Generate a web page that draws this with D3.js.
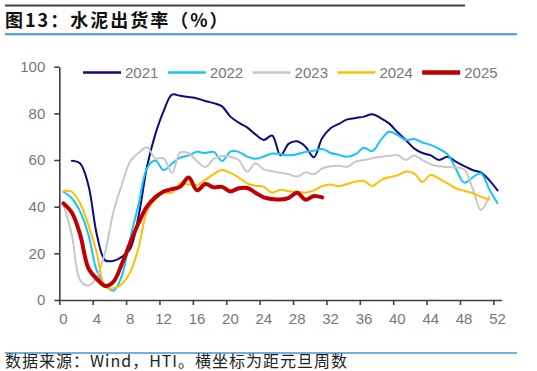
<!DOCTYPE html>
<html lang="zh">
  <head>
    <meta charset="utf-8">
    <title>水泥出货率</title>
    <style>
      body { margin: 0; background: #fff; }
      svg { display: block; }
    </style>
  </head>
  <body>

<script src="https://cdn.jsdelivr.net/npm/d3@7"></script>

<script>

// data, weeks since new year
var years = ["2021", "2022", "2023", "2024", "2025"];
var colors = ["#0c0c80", "#12c4fa", "#c8c8c8", "#ffbf00", "#c00000"];
var widths = [2, 2, 2, 2, 4];
var startWeek = [1, 0, 0, 0, 0];

var v2021 = [59.7, 58.5, 49, 28, 17, 16.8, 18.5, 22, 36, 57, 71, 81, 88, 87.5, 87, 86.4, 85.3, 84.4, 83, 78.6,
  76, 74, 71, 68.6, 70.5, 62, 67, 68, 65.7, 61.2, 69.4, 73.6, 75.5, 77.4, 78, 78.6, 79.6, 78, 75.7, 72,
  68.6, 65, 63, 62, 60, 61.4, 59.3, 57.4, 55.7, 54.7, 51.4, 47];
var v2022 = [46.4, 43.6, 37.9, 27.9, 12.5, 6.4, 4, 10.5, 26.5, 41, 56.4, 59.8, 55.7, 58.5, 61, 62, 63.5, 63, 63.5, 59.6,
  63.6, 63.5, 61.5, 60.5, 61.5, 62.8, 62.5, 62, 62.5, 63.5, 64, 64.7, 63, 62.2, 61.4, 62.5, 65.3, 63.8, 68.5, 72.1,
  70.8, 68.6, 69, 67.5, 66.5, 64.8, 62.5, 56.4, 50.3, 52.5, 54.3, 47.5, 41.5];
var v2023 = [41, 28, 8.5, 6.2, 10, 20.7, 38, 49.5, 59.5, 63, 65.5, 60.7, 60.7, 54.5, 63.3, 62.9, 59.5, 57, 60.5, 61.7,
  61.4, 60, 55, 58.6, 56, 55.2, 54.5, 53.9, 52.9, 54.7, 53.9, 56.4, 57.3, 57.5, 57.1, 59.3, 60, 60.8, 61.3, 61.8,
  62.1, 60, 61.9, 60, 58.2, 57.3, 57, 56.8, 56, 48, 38.6, 44.3];
var v2024 = [46.7, 46.4, 41.4, 32, 20, 5.7, 5, 7, 12, 22.5, 38, 43, 46, 46, 50, 49.5, 49.3, 51.5, 54, 55.7,
  54.5, 52.5, 50, 49, 48.5, 46, 47.3, 46.6, 46.4, 46, 47, 48.8, 49.5, 48.8, 49.7, 50.8, 51, 48.9, 51.3, 52.6,
  53.4, 55, 54.3, 50.7, 53.6, 52, 50, 47.9, 46.8, 45.8, 44.3, 43];
var v2025 = [41.4, 37.5, 28, 13.5, 9, 6, 7.9, 15.5, 24.5, 33, 40, 44, 46.5, 47.5, 48.6, 52.5, 47, 49.7, 48.3, 48.5,
  46.5, 47.9, 48, 46, 44, 43.3, 43.1, 43.8, 46, 43, 44.6, 44];
var values = [v2021, v2022, v2023, v2024, v2025];

var xLabels = d3.range(0, 53, 4);
var yTicks = [0, 20, 40, 60, 80, 100];

var title = "图13：水泥出货率（%）";
var source = "数据来源：Wind，HTI。横坐标为距元旦周数";

var W = 537, H = 371;
var svg = d3.select("body").append("svg")
  .attr("width", W)
  .attr("height", H);

var numFont = "'Liberation Sans', Arial, sans-serif";
var cjkFont = "'Noto Sans CJK SC', 'Noto Sans', sans-serif";

// header / footer rules
svg.append("line").attr("x1", 5).attr("x2", 465).attr("y1", 5.5).attr("y2", 5.5)
  .attr("stroke", "#404040").attr("stroke-width", 2);
svg.append("text").attr("x", 5).attr("y", 27)
  .attr("font-family", cjkFont).attr("font-weight", "bold").attr("font-size", 18)
  .attr("letter-spacing", 2)
  .attr("fill", "#111").text(title);
svg.append("line").attr("x1", 5).attr("x2", 517).attr("y1", 34.3).attr("y2", 34.3)
  .attr("stroke", "#3f98d4").attr("stroke-width", 2);
svg.append("line").attr("x1", 5).attr("x2", 517).attr("y1", 353).attr("y2", 353)
  .attr("stroke", "#3f98d4").attr("stroke-width", 1.3);
svg.append("text").attr("x", 5).attr("y", 367)
  .attr("font-family", cjkFont).attr("font-size", 16)
  .attr("letter-spacing", 1)
  .attr("fill", "#222").text(source);

// scales
var x = d3.scaleLinear().domain([-0.5, 52.5]).range([59.3, 501.7]);
var y = d3.scaleLinear().domain([0, 100]).range([300, 66.7]);

// axes
var yAxis = svg.append("g")
  .attr("transform", "translate(" + x(-0.5) + ",0)")
  .call(d3.axisLeft(y).tickValues(yTicks).tickSize(5).tickSizeOuter(0).tickPadding(9));
var xAxis = svg.append("g")
  .attr("transform", "translate(0," + y(0) + ")")
  .call(d3.axisBottom(x).tickValues(d3.range(-0.5, 52, 4)).tickSize(5).tickSizeOuter(0).tickFormat(""));

[yAxis, xAxis].forEach(function(g) {
  g.selectAll("path, line").attr("stroke", "#404040").attr("stroke-width", 1.6);
  g.selectAll("text").attr("font-family", numFont).attr("font-size", 15).attr("fill", "#777");
});

// x labels sit in the middle of each week slot
svg.append("g").selectAll("text")
  .data(xLabels)
  .join("text")
  .attr("x", function(d) { return x(d); })
  .attr("y", 324)
  .attr("text-anchor", "middle")
  .attr("font-family", numFont)
  .attr("font-size", 15)
  .attr("fill", "#777")
  .text(function(d) { return d; });

// lines
var line = d3.line()
  .x(function(d) { return x(d.w); })
  .y(function(d) { return y(d.v); })
  .curve(d3.curveCatmullRom.alpha(0.5));

years.forEach(function(yr, i) {
  var pts = values[i].map(function(v, j) { return { w: startWeek[i] + j, v: v }; });
  svg.append("path")
    .datum(pts)
    .attr("fill", "none")
    .attr("stroke", colors[i])
    .attr("stroke-width", widths[i])
    .attr("stroke-linejoin", "round")
    .attr("stroke-linecap", "round")
    .attr("d", line);
});

// legend
var legend = svg.append("g").selectAll("g")
  .data(years)
  .join("g")
  .attr("transform", function(d, i) { return "translate(" + (83 + i * 84.8) + ",72.5)"; });
legend.append("line")
  .attr("x1", 0).attr("x2", 38)
  .attr("stroke", function(d, i) { return colors[i]; })
  .attr("stroke-width", function(d, i) { return widths[i] + 0.3; });
legend.append("text")
  .attr("x", 42)
  .attr("dy", "0.35em")
  .attr("font-family", numFont)
  .attr("font-size", 15)
  .attr("fill", "#777")
  .text(function(d) { return d; });

</script>

  </body>
</html>
